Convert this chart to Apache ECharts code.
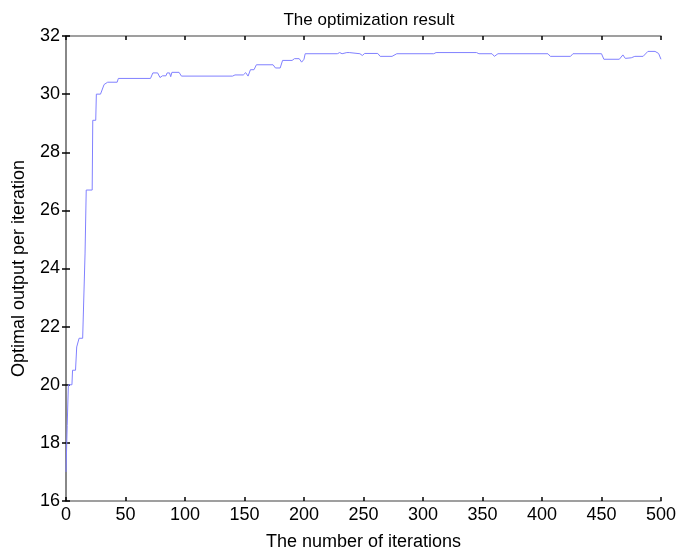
<!DOCTYPE html>
<html>
<head>
<meta charset="utf-8">
<title>The optimization result</title>
<script src="https://cdn.jsdelivr.net/npm/echarts@6/dist/echarts.min.js"></script>
<style>
    html, body { margin: 0; padding: 0; background: #fff; }
    #optim_chart { width: 679px; height: 556px; }
</style>
</head>
<body>
<div id="optim_chart"></div>
<script>
// Data
// ------------------------------

var iterations = [0, 1, 2, 5, 5.5, 8, 9, 11, 14, 16, 17, 22, 22.5, 25, 25.5, 29, 32, 35, 43, 44,
    71, 73, 77, 79, 81, 84, 85, 87, 88, 89, 95, 97, 140, 142, 149, 151, 153, 155, 158, 160,
    174, 176, 180, 182, 190, 192, 196, 198, 200, 201, 228, 230, 232, 236, 238, 247, 249, 251,
    262, 264, 274, 278, 309, 311, 345, 347, 358, 360, 363, 405, 407, 424, 426, 450, 452, 465,
    468, 470, 475, 478, 485, 489, 495, 498, 500];

var bestOutput = [17.0, 18.6, 20.0, 20.0, 20.5, 20.5, 21.3, 21.6, 21.6, 24.5, 26.7, 26.7, 29.1, 29.1, 30.0, 30.0, 30.33, 30.41, 30.41, 30.54,
    30.54, 30.73, 30.73, 30.57, 30.63, 30.63, 30.73, 30.73, 30.6, 30.75, 30.75, 30.62, 30.62, 30.66, 30.66, 30.74, 30.62, 30.84, 30.84, 31.01,
    31.01, 30.9, 30.9, 31.16, 31.16, 31.22, 31.22, 31.1, 31.2, 31.39, 31.39, 31.43, 31.39, 31.43, 31.43, 31.39, 31.33, 31.4,
    31.4, 31.3, 31.3, 31.39, 31.39, 31.43, 31.43, 31.39, 31.39, 31.3, 31.39, 31.39, 31.3, 31.3, 31.39, 31.39, 31.2, 31.2,
    31.35, 31.23, 31.25, 31.3, 31.3, 31.47, 31.47, 31.4, 31.2];

var xTicks = { min: 0, max: 500, interval: 50 };
var yTicks = { min: 16, max: 32, interval: 2 };


// Chart
// ------------------------------

var chartElement = document.getElementById('optim_chart');
var chart = echarts.init(chartElement);

var points = iterations.map(function(it, i) {
    return [it, bestOutput[i]];
});

var fontFamily = 'Liberation Sans, Arial, sans-serif';

var boxLine = { show: true, lineStyle: { color: '#808080', width: 1.5 } };
var innerTick = { show: true, inside: true, length: 4, lineStyle: { color: '#000', width: 1.5 } };

chart.setOption({
    animation: false,
    textStyle: { fontFamily: fontFamily },

    title: {
        text: 'The optimization result',
        left: 364,
        textAlign: 'center',
        top: 7,
        textStyle: { fontFamily: fontFamily, fontSize: 17, fontWeight: 'normal', color: '#000' }
    },

    grid: { left: 66, right: 14, top: 36, bottom: 50 },

    xAxis: [
        {
            type: 'value',
            min: xTicks.min, max: xTicks.max, interval: xTicks.interval,
            name: 'The number of iterations',
            nameLocation: 'middle',
            nameGap: 32,
            nameTextStyle: { fontSize: 18, color: '#000' },
            axisLine: boxLine,
            axisTick: innerTick,
            axisLabel: { fontSize: 18, color: '#000', margin: 5 },
            splitLine: { show: false }
        },
        {
            type: 'value',
            position: 'top',
            min: xTicks.min, max: xTicks.max, interval: xTicks.interval,
            axisLine: boxLine,
            axisTick: innerTick,
            axisLabel: { show: false },
            splitLine: { show: false }
        }
    ],

    yAxis: [
        {
            type: 'value',
            min: yTicks.min, max: yTicks.max, interval: yTicks.interval,
            name: 'Optimal output per iteration',
            nameLocation: 'middle',
            nameGap: 38,
            nameTextStyle: { fontSize: 18, color: '#000' },
            axisLine: boxLine,
            axisTick: innerTick,
            axisLabel: { fontSize: 18, color: '#000', margin: 6 },
            splitLine: { show: false }
        },
        {
            type: 'value',
            position: 'right',
            min: yTicks.min, max: yTicks.max, interval: yTicks.interval,
            axisLine: boxLine,
            axisTick: innerTick,
            axisLabel: { show: false },
            splitLine: { show: false }
        }
    ],

    series: [{
        type: 'line',
        data: points,
        showSymbol: false,
        lineStyle: { color: '#8080ff', width: 1 },
        z: 3
    }]
});
</script>
</body>
</html>
